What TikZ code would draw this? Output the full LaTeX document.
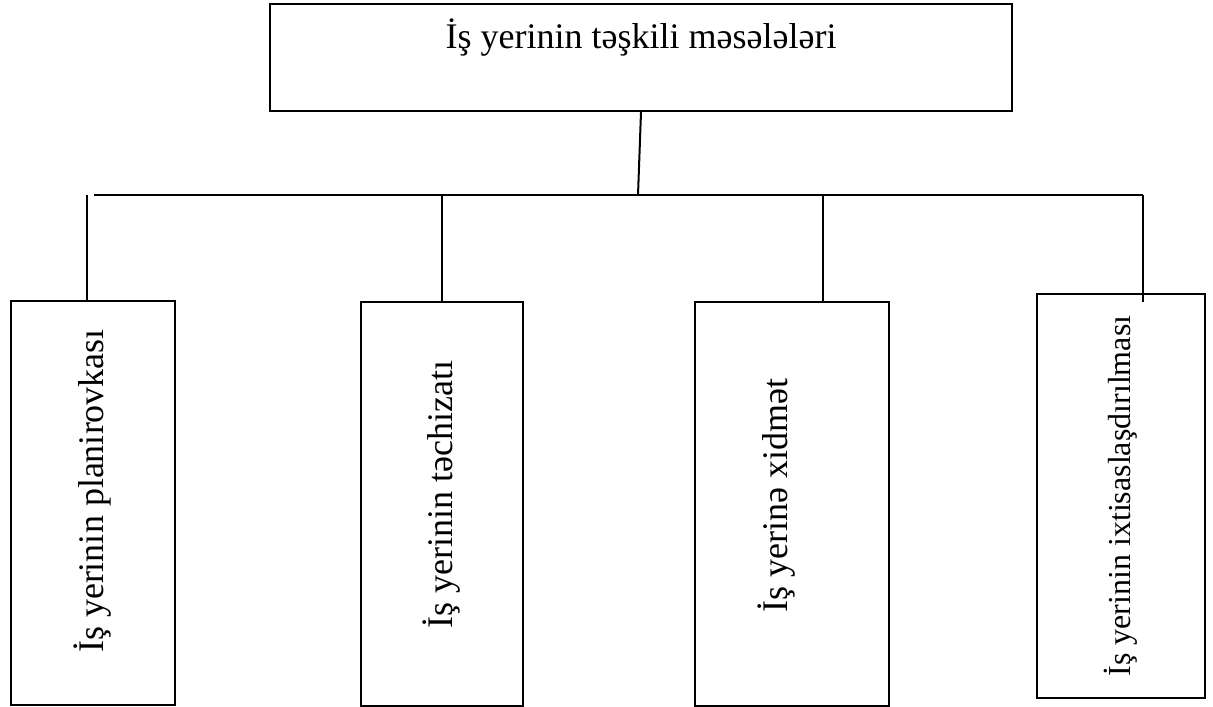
\documentclass[tikz,border=0pt]{standalone}
\usepackage{fontspec}
\setmainfont{Liberation Serif}
\usetikzlibrary{positioning}

\begin{document}
\begin{tikzpicture}[x=0.5pt, y=-0.5pt,
        box/.style={draw, line width=1pt, inner sep=0pt, align=center, font=\fontsize{18}{21}\selectfont},
        vbox/.style={box, minimum height=202pt},
        line/.style={line width=1pt}
    ]
    \useasboundingbox (0,0) rectangle (1213,706);
    % Nodes
    \node[box, minimum width=371pt, minimum height=53.5pt] (main) at (641,57.5) {İş yerinin təşkili məsələləri\\[-3pt]\strut};
    \node[vbox, minimum width=82pt] (plan) at (93,503) {\raisebox{12pt}{\rotatebox{90}{İş yerinin planirovkası}}};
    \node[vbox, minimum width=81pt] (equip) at (442,503.5) {\raisebox{9pt}{\rotatebox{90}{İş yerinin təchizatı}}};
    \node[vbox, minimum width=97pt] (serv) at (792,503.5) {\hspace*{-15pt}\raisebox{8pt}{\rotatebox{90}{İş yerinə xidmət}}};
    \node[vbox, minimum width=84pt, font=\fontsize{16}{19}\selectfont] (spec) at (1121,496) {\rotatebox{90}{İş yerinin ixtisaslaşdırılması}};

    % Bar
    \coordinate (mid) at (638,195);
    \coordinate (barL) at (94,195);
    \coordinate (barR) at (1143,195);
    \coordinate (d1) at (87,195);
    \coordinate (d2) at (442,195);
    \coordinate (d3) at (823,195);
    \coordinate (e4) at (1143,302);

    % Lines
    \draw[line] (main.south) -- (mid);
    \draw[line] (barL) -- (barR);
    \draw[line] (d1) -- (d1 |- plan.north);
    \draw[line] (d2) -- (d2 |- equip.north);
    \draw[line] (d3) -- (d3 |- serv.north);
    \draw[line] (barR) -- (e4);
\end{tikzpicture}
\end{document}
